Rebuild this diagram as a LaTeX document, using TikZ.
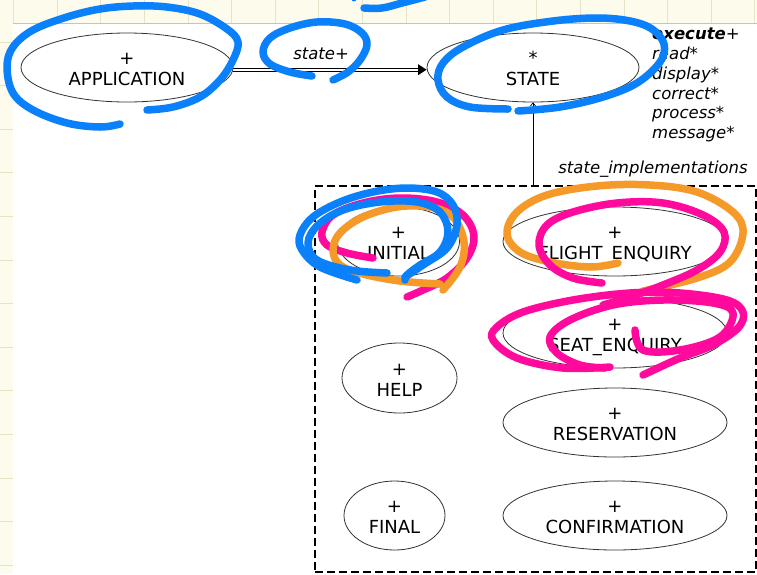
\documentclass[tikz,border=0pt]{standalone}
\usepackage{fontspec}
\setmainfont{DejaVu Sans}
\usetikzlibrary{shapes.geometric,arrows.meta,calc}

\definecolor{padbg}{HTML}{FDFBEC}
\definecolor{padgrid}{HTML}{E8E3C8}
\definecolor{padedge}{HTML}{C4C4C4}
\definecolor{penblue}{HTML}{0A80FA}
\definecolor{penpink}{HTML}{FF0A9C}
\definecolor{penorange}{HTML}{F59A28}

% two-line class label: multiplicity mark above the class name
\newcommand{\clsname}[2]{\rule{0pt}{20.3pt}#1\\\rule[-5pt]{0pt}{5pt}#2}

\begin{document}
\begin{tikzpicture}[x=1pt,y=-1pt,
  cls/.style={ellipse, draw=black!80, line width=0.8pt, fill=white, inner sep=0pt,
              align=center, font=\fontsize{18}{21.3}\selectfont},
  lbl/.style={inner sep=0pt, font=\fontsize{16.5}{19.8}\selectfont\itshape},
  rail/.style={draw=black, line width=0.8pt},
  pen/.style={line width=7.5pt, line cap=round, line join=round},
  blueink/.style={pen, draw=penblue},
  pinkink/.style={pen, draw=penpink},
  orangeink/.style={pen, draw=penorange},
]
\useasboundingbox (0,0) rectangle (757,574);

% notebook page background
\fill[padbg] (0,0) rectangle (757,574);
\foreach \gx in {0,...,17} \draw[padgrid, line width=0.8pt] (13.5+43.6*\gx,0) -- (13.5+43.6*\gx,23);
\foreach \gy in {0,...,12} \draw[padgrid, line width=0.8pt] (0,42+43.6*\gy) -- (13,42+43.6*\gy);
\fill[white] (13,23) rectangle (757,574);
\draw[padedge, line width=0.8pt] (13,23) -- (757,23);

% classes
\node[cls, minimum width=212pt, minimum height=69pt] (app) at (127,67.5) {\clsname{+}{APPLICATION}};
\node[cls, minimum width=212pt, minimum height=69pt] (st) at (533,67.5) {\clsname{*}{STATE}};

% state implementations cluster
\node[draw, dashed, dash pattern=on 8pt off 4pt, line width=1.8pt, inner sep=0pt,
      minimum width=441pt, minimum height=386pt] (impl) at (535.5,379) {};

\node[cls, minimum width=122pt, minimum height=69pt] (initial) at (398.5,241.5) {\clsname{+}{INITIAL}};
\node[cls, minimum width=224pt, minimum height=69pt] (flight) at (615,241.5) {\clsname{+}{FLIGHT\_ENQUIRY}};
\node[cls, minimum width=224pt, minimum height=70pt] (seat) at (615,333) {\clsname{+}{SEAT\_ENQUIRY}};
\node[cls, minimum width=115pt, minimum height=70pt] (help) at (399.5,378) {\clsname{+}{HELP}};
\node[cls, minimum width=224pt, minimum height=69pt] (resv) at (615,422.5) {\clsname{+}{RESERVATION}};
\node[cls, minimum width=101pt, minimum height=69pt] (final) at (394.5,515.5) {\clsname{+}{FINAL}};
\node[cls, minimum width=224pt, minimum height=69pt] (confirm) at (615,515.5) {\clsname{+}{CONFIRMATION}};

% client relation APPLICATION -> STATE: double rail with a filled head
\draw[rail] ([yshift=-0.6pt]app.east) -- ([xshift=-7pt,yshift=-0.6pt]st.west);
\draw[rail] ([yshift=-3.8pt]app.east) -- ([xshift=-7pt,yshift=-3.8pt]st.west);
\fill[black] ([yshift=-2.2pt]st.west) -- ++(-8.5,-5.5) -- ++(0,11) -- cycle;
\path (app.east) -- (st.west) node[lbl, pos=0.454, anchor=base, yshift=8pt] {state+};

% inheritance from the implementations to STATE
\draw[-{Straight Barb[length=3pt,width=5pt]}, line width=0.7pt] (impl.north -| st.south) -- (st.south)
  node[lbl, pos=0, anchor=base west, xshift=25pt, yshift=11.5pt] {state\_implementations};

% features of STATE
\node[lbl, anchor=north west, align=left] (ops) at (652,25.5)
  {\rule{0pt}{14pt}\textbf{execute}+\\read*\\display*\\correct*\\process*\\message*};

% pen annotations
\draw[blueink] plot[smooth, tension=0.6] coordinates {(147,110) (173,107) (200,97) (220,80) (233,60) (238,42) (227,29) (200,14) (167,7) (133,6) (100,9) (67,17) (33,30) (13,47) (7,67) (13,93) (33,110) (67,123) (100,127) (120,124)};
\draw[blueink] plot[smooth, tension=0.6] coordinates {(312,76) (290,72) (270,64) (263,52) (270,38) (290,28) (317,22) (345,24) (362,33) (367,45) (360,60) (348,72) (333,80)};
\draw[blueink] plot[smooth, tension=0.6] coordinates {(364,8) (382,8) (402,3) (425,-3)};
\fill[penblue] (354,-1) circle (2.5pt);
\draw[blueink] plot[smooth, tension=0.6] coordinates {(508,109) (470,107) (447,97) (438,80) (443,63) (463,47) (503,30) (553,21) (597,18) (630,21) (652,29) (664,44) (660,62) (637,83) (603,97) (560,107) (518,111)};

\draw[pinkink] plot[smooth, tension=0.6] coordinates {(373,258) (347,253) (327,245) (322,232) (333,215) (363,203) (400,198) (437,202) (463,215) (474,236) (467,258) (447,278) (423,290) (407,297)};
\draw[orangeink] plot[smooth, tension=0.6] coordinates {(440,284) (400,281) (363,274) (340,265) (333,250) (340,233) (363,217) (397,207) (430,207) (453,217) (464,242) (460,267) (443,290)};
\draw[blueink] plot[smooth, tension=0.6] coordinates {(357,280) (320,267) (302,250) (300,235) (313,217) (340,202) (373,192) (407,188) (437,192) (453,205) (457,225) (447,248) (423,265) (405,277)};
\draw[blueink] plot[smooth, tension=0.6] coordinates {(387,273) (350,270) (317,260) (308,243) (318,225) (343,210) (380,202) (417,202) (440,212) (448,232) (440,252) (420,265) (407,275) (405,280)};

\draw[orangeink] plot[smooth, tension=0.6] coordinates {(618,263) (590,267) (550,262) (520,252) (507,234) (517,212) (547,195) (597,186) (650,185) (697,192) (733,212) (743,233) (730,262) (697,278) (643,291)};
\draw[pinkink] plot[smooth, tension=0.6] coordinates {(602,283) (573,278) (550,265) (539,245) (547,225) (573,212) (617,203) (663,203) (703,215) (724,232) (720,252) (697,270) (663,285) (630,297) (603,305)};
\draw[pinkink] plot[smooth, tension=0.6] coordinates {(610,367) (563,368) (517,358) (493,340) (497,327) (523,312) (573,300) (630,293) (680,293) (727,300) (743,312) (738,328) (713,345) (680,358) (643,375)};
\draw[pinkink] plot[smooth, tension=0.6] coordinates {(635,330) (643,350) (680,350) (720,337) (733,313) (713,303) (663,300) (613,305) (570,320) (550,337) (557,353) (580,365) (605,368)};
\end{tikzpicture}
\end{document}
